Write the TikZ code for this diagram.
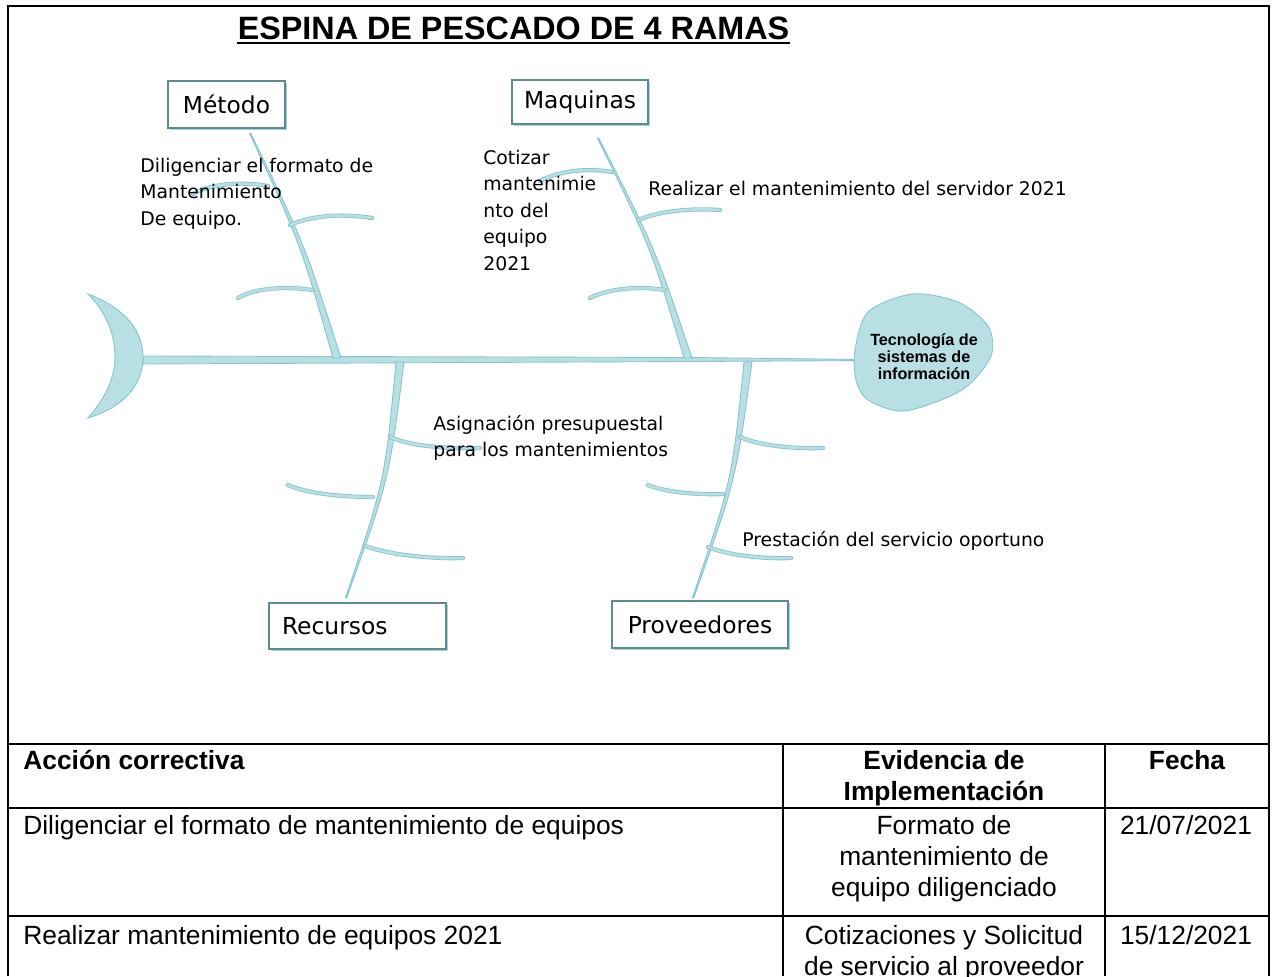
\documentclass[tikz,border=0pt]{standalone}
\usepackage{fontspec}
\setmainfont{Liberation Sans}
\newfontfamily\comic{DejaVu Sans}
\usetikzlibrary{calc,shadows}

\definecolor{bonefill}{HTML}{B8DFE3}
\definecolor{boneline}{HTML}{86C4CB}
\definecolor{boxedge}{HTML}{5E8B90}
\definecolor{boxshade}{HTML}{A3D6DB}

% tapered main bone: tip, spine end, control point
\newcommand{\bigbone}[3]{%
  \filldraw[bone] ($(#1)+(-0.6,0)$) .. controls (#3) .. ($(#2)+(-4,0)$) -- ($(#2)+(4,0)$) .. controls ($(#3)+(4,0)$) .. ($(#1)+(0.6,0)$) -- cycle;}
% small side bone
\newcommand{\twig}[4]{\draw[twig] (#1) .. controls (#2) and (#3) .. (#4);}

\begin{document}
\begin{tikzpicture}[x=0.02cm,y=-0.02cm,
  frame/.style={line width=1.5pt},
  rule/.style={line width=1.2pt},
  bone/.style={fill=bonefill,draw=boneline,line width=0.5pt},
  twig/.style={draw=boneline,line width=0.45pt,double=bonefill,double distance=1.5pt,line cap=round},
  catbox/.style={draw=boxedge,fill=white,line width=0.8pt,font=\comic\fontsize{13.3}{15}\selectfont,
    drop shadow={shadow xshift=1.3pt,shadow yshift=-1.3pt,fill=boxshade,opacity=1}},
  note/.style={inner sep=0,font=\comic\fontsize{10.7}{15}\selectfont,align=left},
  cell/.style={inner sep=0,font=\fontsize{15}{17.6}\selectfont},
  hdr/.style={cell,font=\fontsize{15}{17.6}\selectfont\bfseries}]

  \useasboundingbox (0,0) rectangle (1273,976);

  % frame and table
  \draw[frame] (8,976) -- (8,6) -- (1269,6) -- (1269,976);
  \draw[rule] (8,744) -- (1269,744) (8,808) -- (1269,808) (8,916) -- (1269,916)
              (783,744) -- (783,976) (1105,744) -- (1105,976);

  % title
  \node[inner sep=0,anchor=base,font=\fontsize{18.4}{20}\selectfont\bfseries] (T) at (513.5,40) {ESPINA DE PESCADO DE 4 RAMAS};
  \draw[line width=1.3pt] ($(T.base west)+(0,3)$) -- ($(T.base east)+(0,3)$);

  % spine, tail and head
  \coordinate (S0) at (143,360);
  \coordinate (S1) at (855,360);
  \filldraw[bone] (S0) ++(0,-4) -- (690,357.5) -- ($(S1)+(0,-0.6)$) -- ($(S1)+(0,0.6)$) -- (690,361.5) -- ($(S0)+(0,4)$) -- cycle;
  \filldraw[bone] (88,294) .. controls (130,310) and (143,335) .. (143,357)
    .. controls (143,380) and (130,405) .. (88,418)
    .. controls (108,395) and (115,375) .. (115,357)
    .. controls (115,337) and (108,314) .. (88,294) -- cycle;
  \filldraw[bone] plot[smooth cycle] coordinates {(855,350) (868,312) (912,294) (958,302) (988,326) (991,356) (962,390) (905,411) (868,400) (856,380)};
  \node[align=center,inner sep=0,font=\fontsize{9.2}{9.7}\selectfont\bfseries] (H) at (924,357) {Tecnología de\\sistemas de\\información};

  % categories
  \node[catbox,minimum width=2.34cm,minimum height=0.94cm] (M) at (226.5,104.5) {Método};
  \node[catbox,minimum width=2.72cm,minimum height=0.88cm] (Q) at (580,102) {Maquinas};
  \node[catbox,minimum height=0.92cm,inner xsep=0.26cm,text width=3.02cm,align=left] (R) at (357.5,626) {Recursos};
  \node[catbox,minimum width=3.52cm,minimum height=0.94cm] (P) at (700,624.5) {Proveedores};

  % main bones
  \coordinate (M0) at (250,133);   \coordinate (M1) at (337,358);
  \coordinate (Q0) at (598,138);   \coordinate (Q1) at (688,358);
  \coordinate (R0) at (346,598);   \coordinate (R1) at (400,362);
  \coordinate (P0) at (693,598);   \coordinate (P1) at (748,362);
  \bigbone{M0}{M1}{301,245}
  \bigbone{Q0}{Q1}{651,248}
  \bigbone{R0}{R1}{385,480}
  \bigbone{P0}{P1}{732,480}

  % side bones
  \twig{268,186}{240,181}{210,184}{193,194}
  \twig{290,225}{310,216}{340,213}{372,218}
  \twig{313,290}{285,286}{255,288}{238,298}
  \twig{612,172}{590,168}{560,170}{540,181}
  \twig{638,220}{660,211}{690,208}{720,210}
  \twig{665,290}{640,286}{610,288}{590,298}
  \twig{390,437}{410,446}{445,449}{480,448}
  \twig{288,485}{305,493}{340,497}{373,497}
  \twig{365,546}{390,555}{430,559}{463,558}
  \twig{740,437}{760,446}{795,449}{823,448}
  \twig{648,485}{665,492}{695,495}{723,494}
  \twig{708,547}{730,556}{765,559}{791,558}

  % causes
  \node[note,anchor=north west] (n1) at (140,158) {Diligenciar el formato de\\Mantenimiento\\De equipo.};
  \node[note,anchor=north west] (n2) at (483,150) {Cotizar\\mantenimie\\nto del\\equipo\\2021};
  \node[note,anchor=base west] (n3) at (648,196) {Realizar el mantenimiento del servidor 2021};
  \node[note,anchor=north west] (n4) at (433,415) {Asignación presupuestal\\para los mantenimientos};
  \node[note,anchor=base west] (n5) at (742,546) {Prestación del servicio oportuno};

  % table text
  \node[hdr,anchor=base west] (h1) at (23,769) {Acción correctiva};
  \node[hdr,anchor=north,align=center] (h2) at (944,750) {Evidencia de\\Implementación};
  \node[hdr,anchor=base] (h3) at (1187,769) {Fecha};
  \node[cell,anchor=base west] (a1) at (23,834) {Diligenciar el formato de mantenimiento de equipos};
  \node[cell,anchor=north,align=center] (e1) at (944,815) {Formato de\\mantenimiento de\\equipo diligenciado};
  \node[cell,anchor=base] (f1) at (1186,834) {21/07/2021};
  \node[cell,anchor=base west] (a2) at (23,944) {Realizar mantenimiento de equipos 2021};
  \node[cell,anchor=north,align=center] (e2) at (944,925) {Cotizaciones y Solicitud\\de servicio al proveedor};
  \node[cell,anchor=base] (f2) at (1186,944) {15/12/2021};

\end{tikzpicture}
\end{document}
